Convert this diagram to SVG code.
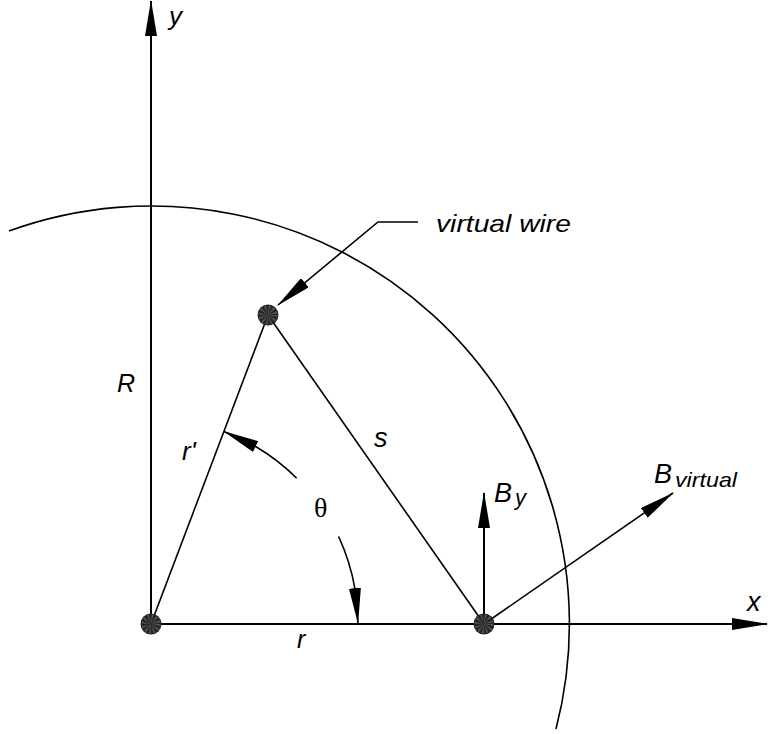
<svg xmlns="http://www.w3.org/2000/svg" width="768" height="734" viewBox="0 0 768 734">
<style>
.ln{fill:none;stroke:#000;stroke-width:1.6}
.ax{fill:none;stroke:#000;stroke-width:2}
.dot{fill:#262626}
.ray{fill:none;stroke:#555;stroke-width:9;stroke-dasharray:1 1.6}
.lb{font-family:"Liberation Sans",Arial,sans-serif;font-style:italic;fill:#000}
.th{font-family:"Liberation Serif","Times New Roman",serif;fill:#000}
</style>
<defs>
<marker id="ah" markerUnits="userSpaceOnUse" markerWidth="36" markerHeight="12" refX="35" refY="6" orient="auto" viewBox="0 0 36 12">
<path d="M0,0 L36,6 L0,12 z" fill="#000"/>
</marker>
</defs>
<rect width="768" height="734" fill="#fff"/>
<g id="circle-R">
<path class="ln" d="M9 231 A418 418 0 0 1 556 729"/>
</g>
<g id="connectors">
<line class="ax" x1="151" y1="624" x2="151" y2="1" marker-end="url(#ah)"/>
<line class="ax" x1="151" y1="624" x2="767" y2="624" marker-end="url(#ah)"/>
<line class="ln" x1="151" y1="624" x2="268" y2="315"/>
<line class="ln" x1="268" y1="315" x2="484" y2="624"/>
<polyline class="ln" points="418,222 378,222 278,305" marker-end="url(#ah)"/>
<line class="ax" x1="484" y1="624" x2="484" y2="493" marker-end="url(#ah)"/>
<line class="ln" x1="484" y1="624" x2="673" y2="493" marker-end="url(#ah)"/>
<path class="ln" d="M296.7 478.3 A206 206 0 0 0 255.2 446.3 L224 431.5" marker-end="url(#ah)"/>
<path class="ln" d="M338.6 536.5 A207 207 0 0 1 355 589.1 L358 623" marker-end="url(#ah)"/>
</g>
<g id="node-origin">
<circle class="dot" cx="151" cy="624" r="10.5"/>
<circle class="ray" cx="151" cy="624" r="5"/>
</g>
<g id="node-virtual-wire">
<circle class="dot" cx="268" cy="315" r="10.5"/>
<circle class="ray" cx="268" cy="315" r="5"/>
</g>
<g id="node-point">
<circle class="dot" cx="484" cy="624" r="10.5"/>
<circle class="ray" cx="484" cy="624" r="5"/>
</g>
<g id="labels">
<text class="lb" x="169" y="25" font-size="26">y</text>
<text class="lb" x="747" y="611" font-size="27">x</text>
<text class="lb" x="117" y="392" font-size="25">R</text>
<text class="lb" x="182" y="460" font-size="26">r'</text>
<text class="lb" x="374" y="447" font-size="27">s</text>
<text class="th" x="314" y="517" font-size="28">θ</text>
<text class="lb" x="297" y="648" font-size="25">r</text>
<text class="lb" x="436" y="231.5" font-size="24" textLength="135" lengthAdjust="spacingAndGlyphs">virtual wire</text>
<text class="lb" x="494" y="502" font-size="27">B</text>
<text class="lb" x="515" y="505" font-size="22">y</text>
<text class="lb" x="654" y="483" font-size="27">B</text>
<text class="lb" x="675" y="486.5" font-size="21" textLength="62" lengthAdjust="spacingAndGlyphs">virtual</text>
</g>
</svg>
